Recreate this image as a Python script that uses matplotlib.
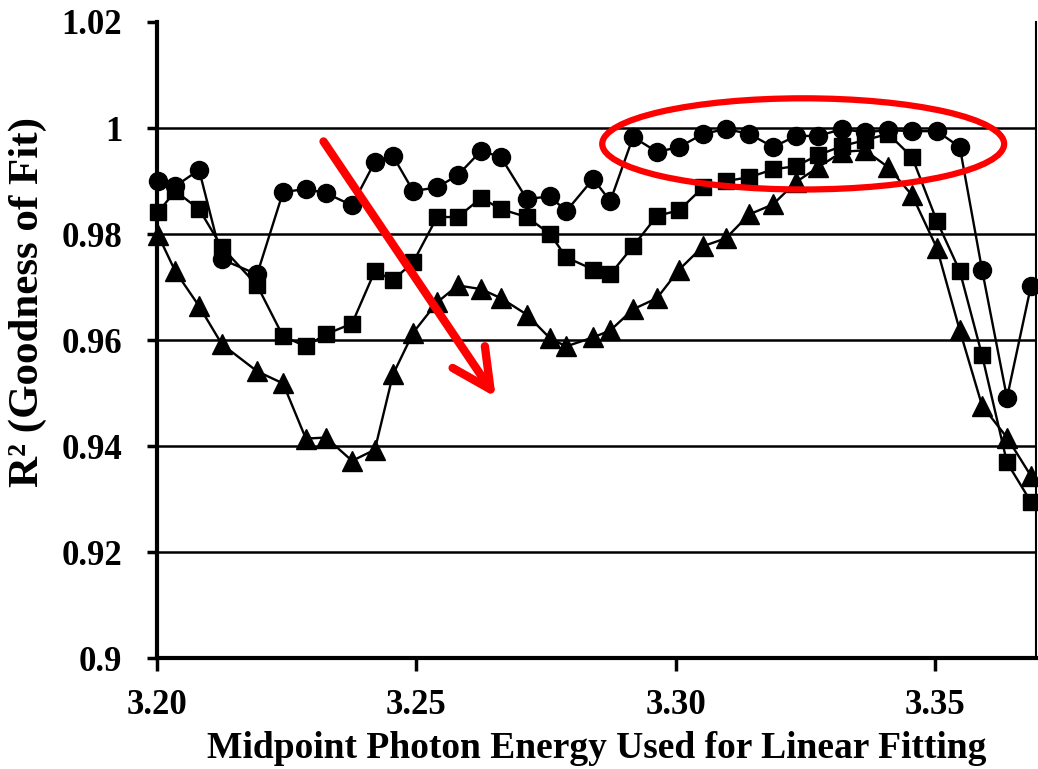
import matplotlib
matplotlib.use("Agg")
import matplotlib.pyplot as plt
from matplotlib.patches import Ellipse
from matplotlib.ticker import FuncFormatter

# midpoint photon energy (eV) of each fitting window
energy = [3.2002, 3.2035, 3.2081, 3.2125, 3.2193, 3.2243, 3.2287, 3.2326,
          3.2376, 3.2420, 3.2455, 3.2494, 3.2540, 3.2580, 3.2625, 3.2663,
          3.2713, 3.2758, 3.2789, 3.2841, 3.2874, 3.2918, 3.2964, 3.3007,
          3.3053, 3.3097, 3.3142, 3.3188, 3.3232, 3.3275, 3.3321, 3.3365,
          3.3410, 3.3456, 3.3504, 3.3548, 3.3591, 3.3639, 3.3685]

r2_circle = [0.9900, 0.9890, 0.9921, 0.9752, 0.9724, 0.9879, 0.9885, 0.9877,
             0.9854, 0.9936, 0.9947, 0.9881, 0.9888, 0.9911, 0.9957, 0.9945,
             0.9866, 0.9871, 0.9843, 0.9904, 0.9862, 0.9983, 0.9955, 0.9964,
             0.9989, 0.9998, 0.9989, 0.9964, 0.9985, 0.9985, 0.9998, 0.9992,
             0.9996, 0.9994, 0.9994, 0.9964, 0.9732, 0.9491, 0.9701]

r2_square = [0.9841, 0.9881, 0.9847, 0.9775, 0.9703, 0.9607, 0.9588, 0.9611,
             0.9631, 0.9730, 0.9713, 0.9747, 0.9832, 0.9832, 0.9868, 0.9847,
             0.9832, 0.9800, 0.9756, 0.9733, 0.9724, 0.9777, 0.9834, 0.9845,
             0.9888, 0.9900, 0.9907, 0.9922, 0.9928, 0.9949, 0.9966, 0.9977,
             0.9989, 0.9945, 0.9824, 0.9730, 0.9571, 0.9369, 0.9295]

r2_triangle = [0.9798, 0.9730, 0.9664, 0.9592, 0.9541, 0.9518, 0.9414, 0.9416,
               0.9372, 0.9393, 0.9535, 0.9614, 0.9671, 0.9703, 0.9696, 0.9679,
               0.9648, 0.9603, 0.9588, 0.9605, 0.9618, 0.9658, 0.9679, 0.9733,
               0.9777, 0.9792, 0.9837, 0.9856, 0.9898, 0.9926, 0.9955, 0.9958,
               0.9926, 0.9873, 0.9773, 0.9618, 0.9476, 0.9416, 0.9344]

x_ticks = [3.20, 3.25, 3.30, 3.35]
y_ticks = [0.90, 0.92, 0.94, 0.96, 0.98, 1.00, 1.02]

plt.rcParams["font.family"] = ["Liberation Serif", "DejaVu Serif"]
plt.rcParams["font.weight"] = "bold"

fig = plt.figure(figsize=(10.38, 7.69), dpi=100)
ax = fig.add_axes([0.1513, 0.1443, 0.8468, 0.8271])

for y in y_ticks[1:-1]:
    ax.axhline(y, color="black", lw=1.8, zorder=1)

ax.plot(energy, r2_triangle, color="black", lw=1.7, marker="^", ms=14, zorder=3, clip_on=False)
ax.plot(energy, r2_square, color="black", lw=1.7, marker="s", ms=12, zorder=4, clip_on=False)
ax.plot(energy, r2_circle, color="black", lw=1.7, marker="o", ms=13, zorder=5, clip_on=False)

ax.set_xlim(3.20, 3.3695)
ax.set_ylim(0.90, 1.02)
ax.set_xticks(x_ticks)
ax.set_yticks(y_ticks)
ax.xaxis.set_major_formatter(FuncFormatter(lambda v, p: f"{v:.2f}"))
ax.yaxis.set_major_formatter(FuncFormatter(lambda v, p: f"{v:g}"))
ax.tick_params(axis="both", labelsize=25, width=2.5, direction="out")
ax.tick_params(axis="y", length=7, pad=18)
ax.tick_params(axis="x", length=9, pad=13)

for side in ("left", "bottom"):
    ax.spines[side].set_linewidth(3)
ax.spines["right"].set_linewidth(1.5)
ax.spines["top"].set_visible(False)

ax.set_xlabel("Midpoint Photon Energy Used for Linear Fitting", fontsize=27, fontweight="bold")
ax.set_ylabel("R² (Goodness of Fit)", fontsize=31, fontweight="bold")
ax.yaxis.set_label_coords(-0.125, 0.56)
ax.xaxis.set_label_coords(0.5, -0.115)

# red highlight: downward arrow and ellipse around the near-unity region
ax.annotate("", xy=(3.2656, 0.9488), xytext=(3.2318, 0.9979),
            arrowprops=dict(arrowstyle="->,head_length=2.8,head_width=1.4",
                            color="red", lw=6, capstyle="round"), zorder=6)
ax.add_patch(Ellipse((3.3246, 0.9970), 0.0775, 0.0172, fill=False,
                     edgecolor="red", lw=4.5, zorder=6, clip_on=False))

fig.savefig("out.png", dpi=100)
